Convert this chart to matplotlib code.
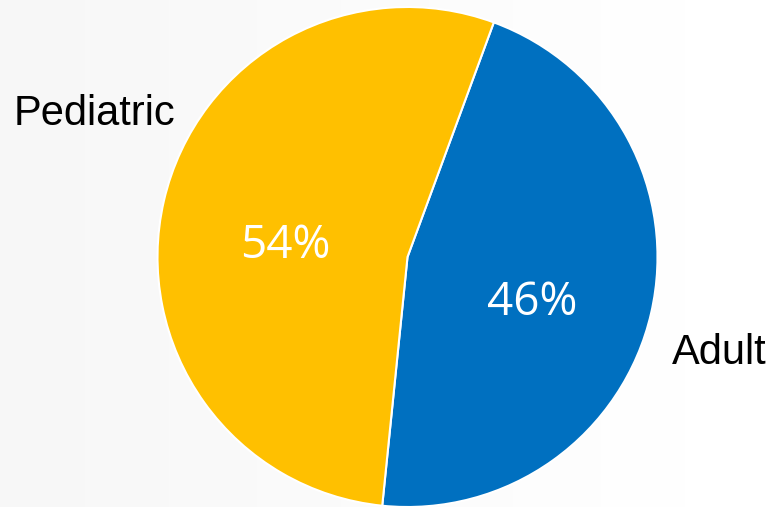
import matplotlib.pyplot as plt
import numpy as np

# Datos
categorias = ['Adult', 'Pediatric']
porcentajes = [46, 54]
colores = ['#0070C0', '#FFC000']

fig = plt.figure(figsize=(7.73, 5.07), dpi=100)

# Fondo con degradado suave (gris claro a la izquierda, blanco a la derecha)
bg = fig.add_axes([0, 0, 1, 1])
grad = np.linspace(0.965, 1.0, 256).reshape(1, -1)
bg.imshow(grad, cmap='gray', vmin=0, vmax=1, aspect='auto', extent=[0, 1, 0, 1])
bg.axis('off')

ax = fig.add_axes([0, 0, 1, 1])

wedges, _ = ax.pie(porcentajes, colors=colores, startangle=-95.8,
                   center=(407.5, 250), radius=250,
                   wedgeprops=dict(edgecolor='white', linewidth=1.5))

# pie() cambia los límites, así que se fijan después
ax.set_xlim(0, 773)
ax.set_ylim(0, 507)
ax.set_aspect('equal')
ax.axis('off')

# Porcentajes dentro de cada sector
ax.text(240, 507 - 258, f'{porcentajes[1]}%', color='white', fontsize=33,
        family='Open Sans', ha='left', va='baseline')
ax.text(487, 507 - 315, f'{porcentajes[0]}%', color='white', fontsize=33,
        family='Open Sans', ha='left', va='baseline')

# Etiquetas de categoría
ax.text(14, 507 - 125, categorias[1], color='black', fontsize=30,
        family='Liberation Sans', ha='left', va='baseline')
ax.text(672, 507 - 364, categorias[0], color='black', fontsize=30,
        family='Liberation Sans', ha='left', va='baseline')

plt.savefig('out.png', dpi=100)
